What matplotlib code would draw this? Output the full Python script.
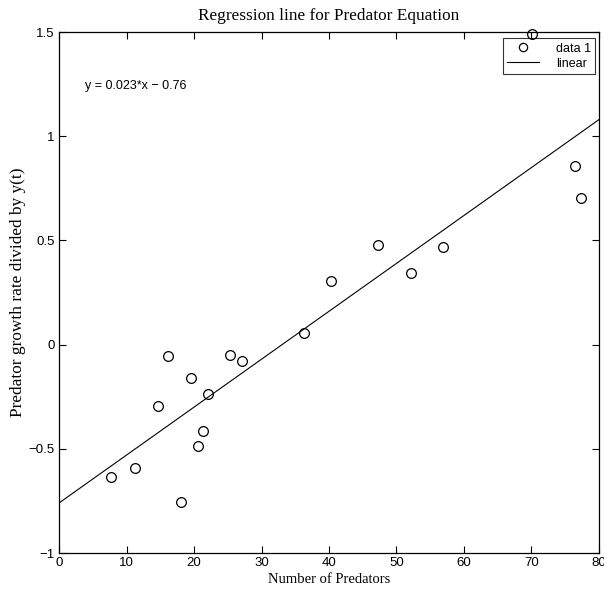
import matplotlib
matplotlib.use("Agg")
import matplotlib.pyplot as plt
import numpy as np

# Data
predators = [7.7, 11.2, 14.6, 16.2, 18.1, 19.5, 20.6, 21.4, 22.0, 25.4, 27.1,
             36.3, 40.3, 47.2, 52.2, 56.9, 70.1, 76.5, 77.3]
growth = [-0.634, -0.594, -0.296, -0.056, -0.757, -0.158, -0.486, -0.414, -0.236,
          -0.051, -0.077, 0.055, 0.307, 0.476, 0.345, 0.468, 1.49, 0.856, 0.704]
slope = 0.023
intercept = -0.76
x_ticks = [0, 10, 20, 30, 40, 50, 60, 70, 80]
y_ticks = [-1, -0.5, 0, 0.5, 1, 1.5]
y_tick_labels = ["\u22121", "\u22120.5", "0", "0.5", "1", "1.5"]

fig = plt.figure(figsize=(6.04, 5.94), dpi=100)
ax = fig.add_axes([0.0977, 0.069, 0.8940, 0.877])

serif = "Liberation Serif"
sans = "Liberation Sans"

ax.plot(predators, growth, linestyle="none", marker="o", markersize=7,
        markerfacecolor="none", markeredgecolor="black", markeredgewidth=0.9,
        label="data 1", zorder=10, clip_on=False)
xl = np.array([0, 80])
ax.plot(xl, slope * xl + intercept, color="black", linewidth=0.8, label="linear")

ax.set_xlim(0, 80)
ax.set_ylim(-1, 1.5)
ax.set_xticks(x_ticks)
ax.set_yticks(y_ticks)
ax.set_xticklabels([str(t) for t in x_ticks], fontfamily=sans, fontsize=9.5)
ax.set_yticklabels(y_tick_labels, fontfamily=sans, fontsize=9.5)
ax.tick_params(direction="in", top=True, right=True, length=5, width=0.8, pad=3)
for s in ax.spines.values():
    s.set_linewidth(0.9)

ax.set_title("Regression line for Predator Equation", fontfamily=serif,
             fontsize=12.4, pad=9)
ax.set_xlabel("Number of Predators", fontfamily=serif, fontsize=10.5, labelpad=3)
ax.set_ylabel("Predator growth rate divided by y(t)", fontfamily=serif,
              fontsize=12.4, labelpad=2)

ax.text(3.9, 1.24, "y = 0.023*x \u2212 0.76", fontfamily=sans, fontsize=9,
        va="center", ha="left")

leg = ax.legend(loc="upper right", prop={"family": sans, "size": 9},
                frameon=True, fancybox=False, edgecolor="black",
                bbox_to_anchor=(0.993, 0.988), borderaxespad=0.0,
                handlelength=2.6, borderpad=0.35, markerscale=0.85,
                labelspacing=0.25, handletextpad=1.3, markerfirst=True)
leg.get_frame().set_linewidth(0.8)
leg.set_zorder(5)

fig.savefig("out.png", dpi=100, facecolor="white")
